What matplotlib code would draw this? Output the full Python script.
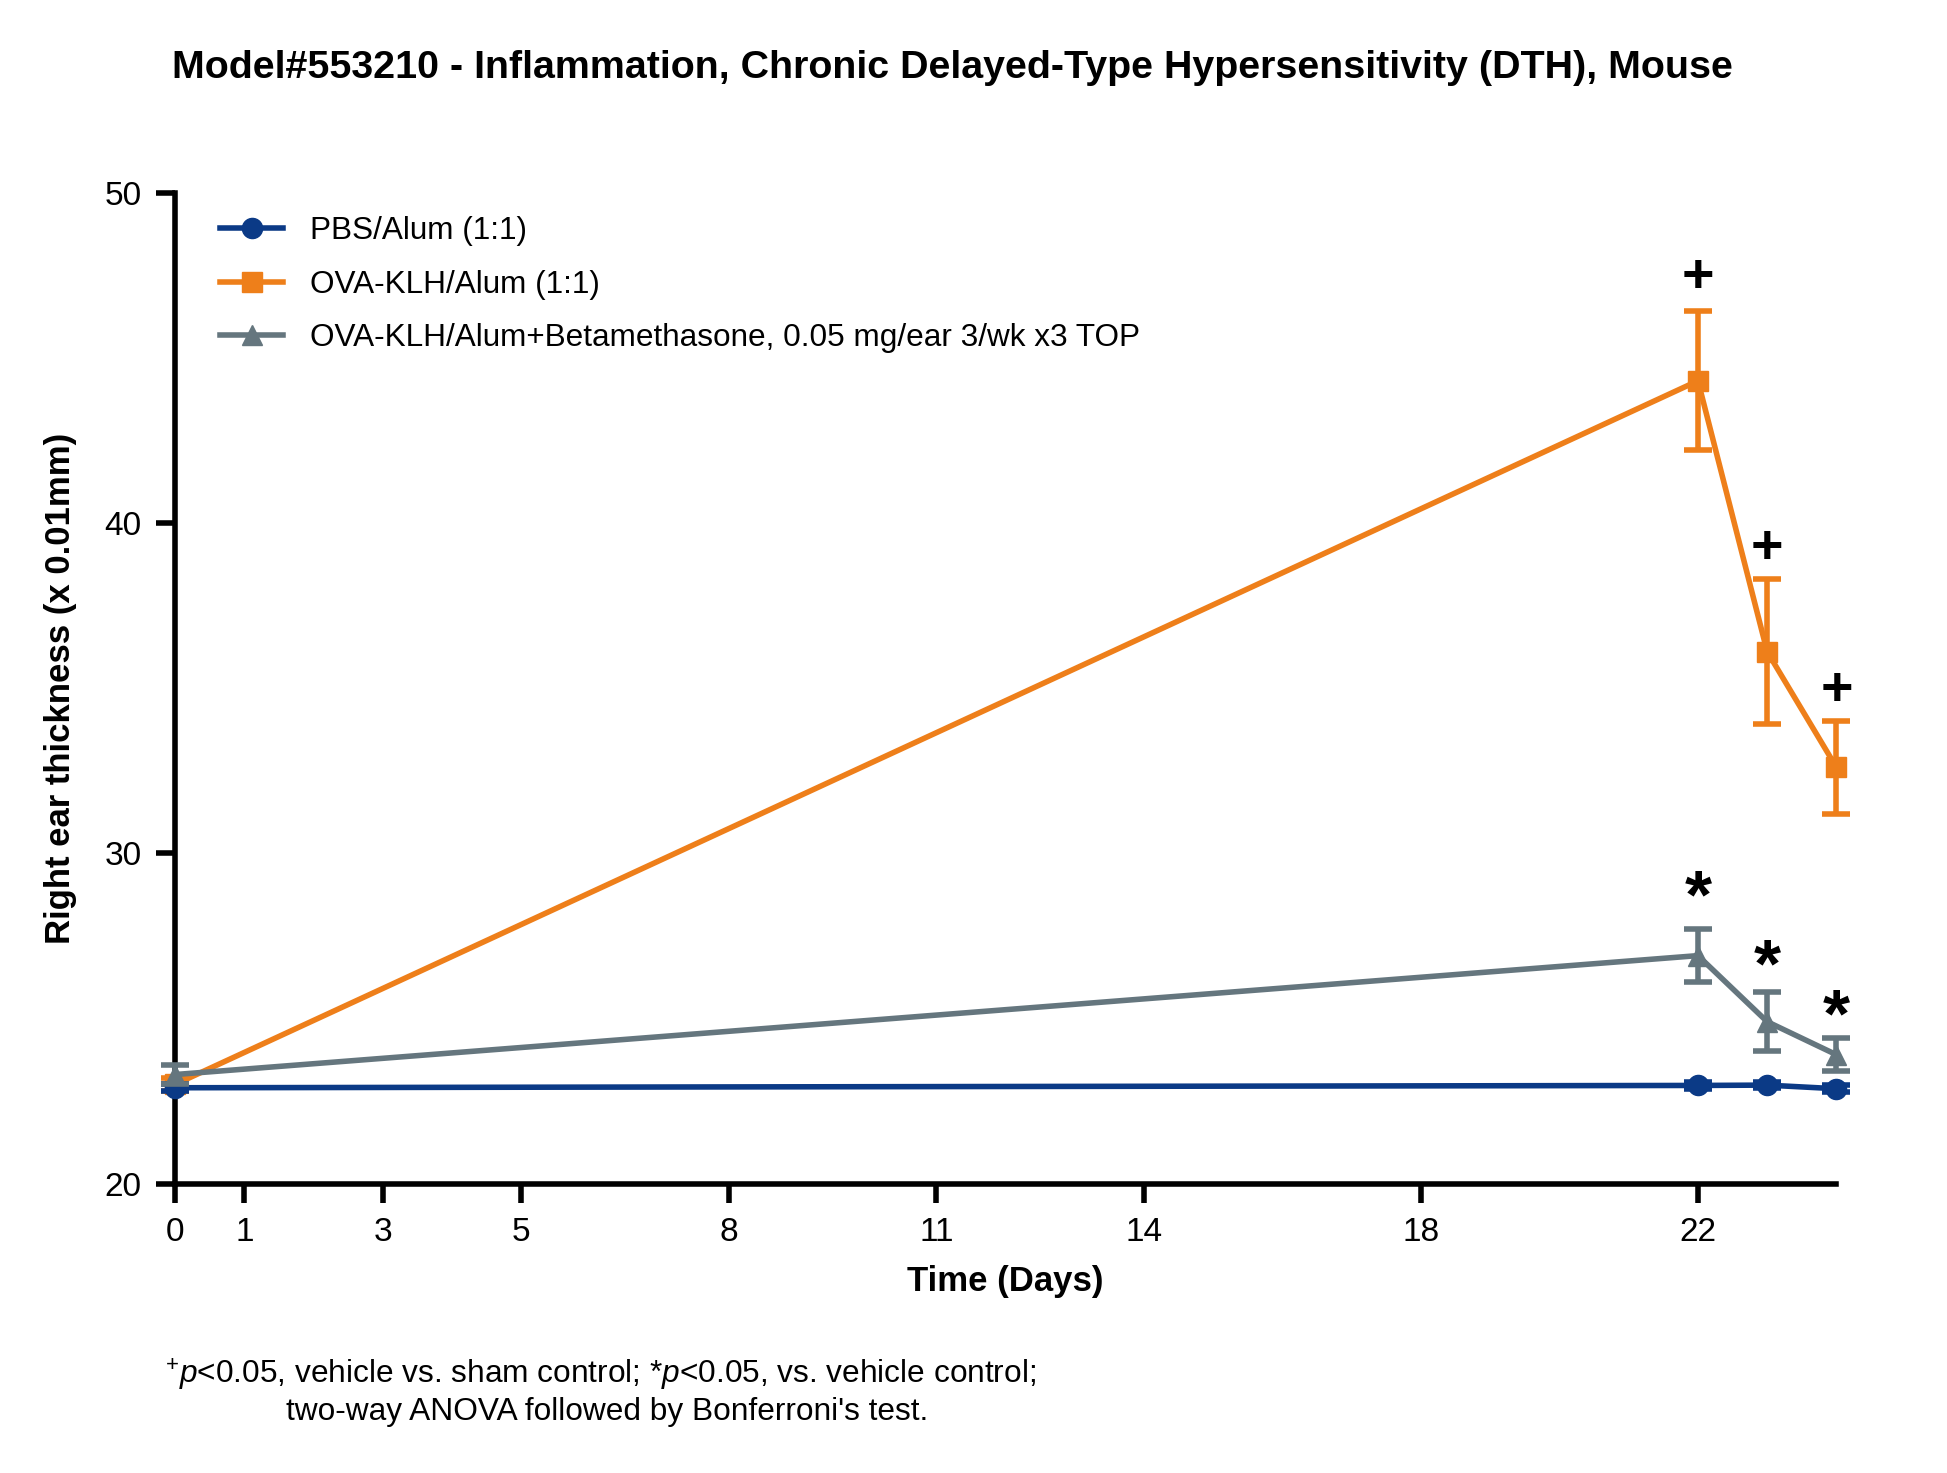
import matplotlib.pyplot as plt
from matplotlib.lines import Line2D

plt.rcParams['font.family'] = ['Liberation Sans', 'DejaVu Sans']
plt.rcParams['mathtext.fontset'] = 'custom'
plt.rcParams['mathtext.rm'] = 'Liberation Sans'
plt.rcParams['mathtext.it'] = 'Liberation Sans:italic'

days = [0, 22, 23, 24]
pbs = [22.9, 22.97, 22.98, 22.87]
pbs_err = [0.1, 0.1, 0.1, 0.1]
ova = [23.0, 44.3, 36.1, 32.6]
ova_err = [0.2, 2.1, 2.2, 1.4]
beta = [23.3, 26.9, 24.9, 23.9]
beta_err = [0.3, 0.8, 0.9, 0.5]
xticks = [0, 1, 3, 5, 8, 11, 14, 18, 22]
plus_y = [47.4, 39.2, 34.9]
star_y = [28.6, 26.5, 25.0]

labels = ['PBS/Alum (1:1)', 'OVA-KLH/Alum (1:1)',
          'OVA-KLH/Alum+Betamethasone, 0.05 mg/ear 3/wk x3 TOP']
colors = ['#0B3A86', '#EE7F1A', '#65767E']
markers = ['o', 's', '^']

fig = plt.figure(figsize=(19.47, 14.73), dpi=100)
ax = fig.add_axes([0.0899, 0.1965, 0.8533, 0.6728])

series = [(pbs, pbs_err), (ova, ova_err), (beta, beta_err)]
zo = [3, 2, 4]
for (vals, err), c, m, z in zip(series, colors, markers, zo):
    ax.errorbar(days, vals, yerr=err, color=c, marker=m, ms=14.5,
                lw=4, capsize=10, capthick=4, elinewidth=4, zorder=z,
                clip_on=False)

for d, y in zip(days[1:], plus_y):
    ax.text(d, y, '+', ha='center', va='center', fontsize=40, fontweight='bold')
for d, y in zip(days[1:], star_y):
    ax.text(d, y, '*', ha='center', va='center', fontsize=50, fontweight='bold')

ax.set_xlim(0, 24)
ax.set_ylim(20, 50)
ax.set_xticks(xticks)
ax.set_yticks([20, 30, 40, 50])
for s in ['top', 'right']:
    ax.spines[s].set_visible(False)
for s in ['left', 'bottom']:
    ax.spines[s].set_linewidth(4)
ax.tick_params(width=4, length=14, labelsize=24, pad=10)
ax.set_xlabel('Time (Days)', fontsize=25, fontweight='bold', labelpad=12)
ax.set_ylabel('Right ear thickness (x 0.01mm)', fontsize=25, fontweight='bold', labelpad=20)

handles = [Line2D([], [], color=c, marker=m, ms=14.5, lw=4) for c, m in zip(colors, markers)]
ax.legend(handles, labels, loc='upper left', bbox_to_anchor=(0.01, 1.005), frameon=False,
          fontsize=22.7, handlelength=2.0, handletextpad=0.85, labelspacing=0.75)

fig.text(0.489, 0.9536, 'Model#553210 - Inflammation, Chronic Delayed-Type Hypersensitivity (DTH), Mouse',
         ha='center', va='center', fontsize=28.4, fontweight='bold')
fig.text(0.0848, 0.0666, r'$^{+}$$\it{p}$<0.05, vehicle vs. sham control; *$\it{p}$<0.05, vs. vehicle control;',
         ha='left', va='center', fontsize=22.8)
fig.text(0.1467, 0.0413, "two-way ANOVA followed by Bonferroni's test.",
         ha='left', va='center', fontsize=22.8)

fig.savefig('out.png', dpi=100)
